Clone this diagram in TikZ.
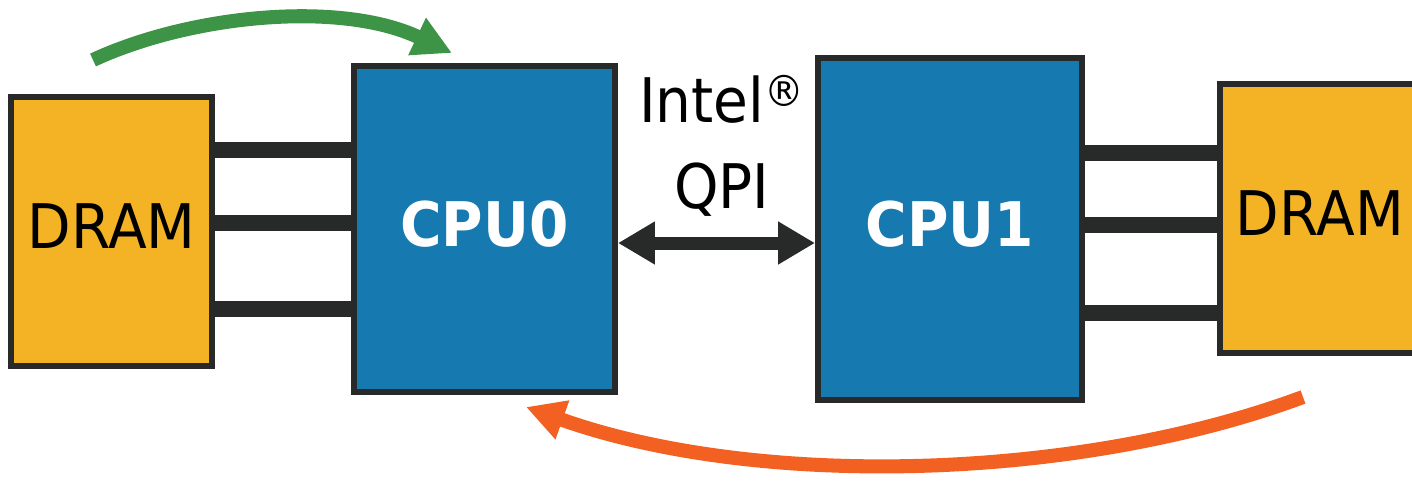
\documentclass[tikz,border=0pt]{standalone}
\usepackage{fontspec}
\setmainfont{DejaVu Sans}[FakeStretch=0.92]
\usetikzlibrary{arrows.meta}
\definecolor{edgegray}{HTML}{282A2A}
\definecolor{dramfill}{HTML}{F3B325}
\definecolor{cpufill}{HTML}{1679B0}
\definecolor{greenflow}{HTML}{3D9446}
\definecolor{orangeflow}{HTML}{F26122}
\tikzset{box/.style={draw=edgegray,line width=3.4pt,inner sep=0pt,text depth=0.2cm,font=\fontsize{35}{40}\selectfont},
dram/.style={box,fill=dramfill,text=black},
cpu/.style={box,fill=cpufill,text=white,font=\fontsize{35}{40}\selectfont\bfseries},
bus/.style={draw=edgegray,line width=9pt},
qpi/.style={draw=edgegray,line width=7.4pt,{Triangle[length=21pt,width=23pt]}-{Triangle[length=21pt,width=23pt]}},
flow/.style={line width=8pt,-{Triangle[length=22pt,width=22pt]}},
label/.style={font=\fontsize{35}{40}\selectfont,anchor=base,inner sep=0pt}}

\begin{document}
\begin{tikzpicture}[x=0.02cm,y=-0.02cm]
\clip (0,0) rectangle (1412,484);

\node[dram,minimum width=4.02cm,minimum height=5.38cm] (dramL) at (111.5,231.5) {DRAM};
\node[cpu,minimum width=5.22cm,minimum height=6.52cm] (cpu0) at (484.5,229) {CPU0};
\node[cpu,minimum width=5.28cm,minimum height=6.84cm] (cpu1) at (950,229) {CPU1};
\node[dram,minimum width=4.0cm,minimum height=5.38cm] (dramR) at (1320,218.5) {DRAM};

% memory channels
\foreach \y in {150,223,309}
  \draw[bus] (dramL.east |- 0,\y) -- (cpu0.west |- 0,\y);
\foreach \y in {153,225,313}
  \draw[bus] (cpu1.east |- 0,\y) -- (dramR.west |- 0,\y);

% interconnect
\node[label] (intel) at (722,122) {Intel\textsuperscript{\textregistered}};
\node[label] (qpilbl) at (722,208) {QPI};
\draw[qpi] (cpu0.east |- 0,243) -- (cpu1.west |- 0,243);

% local and remote access
\coordinate (gs) at (93,60);
\coordinate (ge) at (452,53);
\draw[flow,greenflow] (gs) .. controls (190,15) and (340,0) .. (ge);
\coordinate (os) at (1303,397);
\coordinate (oe) at (526,407);
\draw[flow,orangeflow] (os) .. controls (1080,480) and (760,490) .. (oe);
\end{tikzpicture}
\end{document}
